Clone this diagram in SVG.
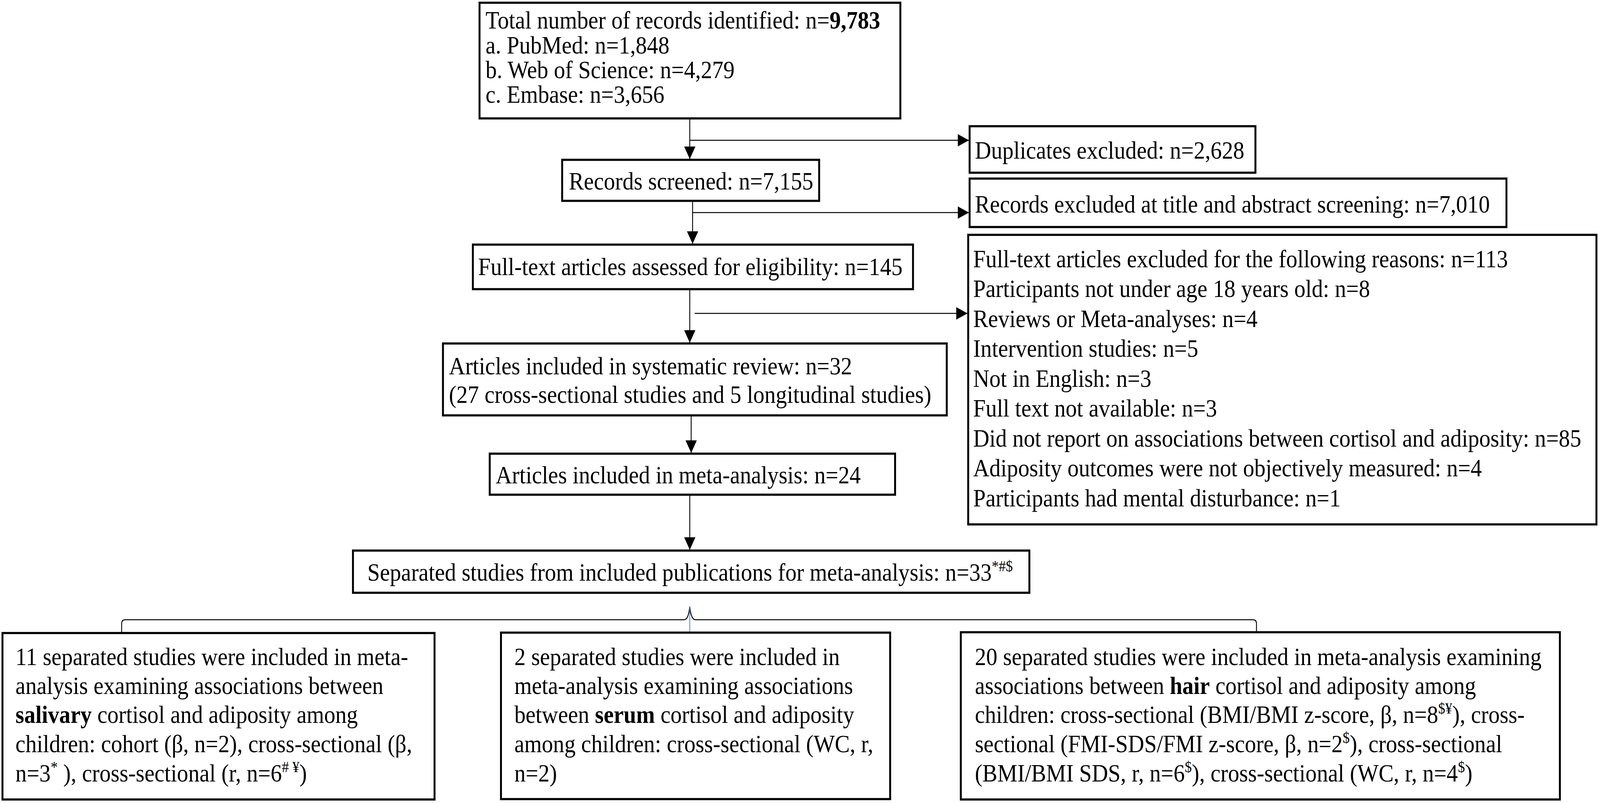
<svg xmlns="http://www.w3.org/2000/svg" width="4551" height="2055" viewBox="0 0 4551 2055">
<style>
.box{fill:#fff;stroke:#000;stroke-width:5.5}
.t{font-family:"Liberation Serif","Times New Roman",serif;font-size:64px;fill:#000}
.b{font-weight:bold}
.sup{font-size:40px}
.ln{fill:none;stroke:#000;stroke-width:2.5}
</style>
<defs>
<marker id="ah" viewBox="0 0 32 32" refX="32" refY="16" markerWidth="32" markerHeight="32" markerUnits="userSpaceOnUse" orient="auto">
<path d="M0,0 L32,16 L0,32 Z" fill="#000"/>
</marker>
</defs>
<rect width="4551" height="2055" fill="#fff"/>
<g id="diagram" transform="scale(0.9 1)">
<g id="connectors">
<line class="ln" x1="1962" y1="303" x2="1962" y2="407" marker-end="url(#ah)"/>
<line class="ln" x1="1962" y1="359" x2="2756" y2="359" marker-end="url(#ah)"/>
<line class="ln" x1="1970" y1="514" x2="1970" y2="624" marker-end="url(#ah)"/>
<line class="ln" x1="1970" y1="544" x2="2756" y2="544" marker-end="url(#ah)"/>
<line class="ln" x1="1962" y1="740" x2="1962" y2="877" marker-end="url(#ah)"/>
<line class="ln" x1="1976" y1="802" x2="2752" y2="802" marker-end="url(#ah)"/>
<line class="ln" x1="1966" y1="1063" x2="1966" y2="1159" marker-end="url(#ah)"/>
<line class="ln" x1="1962" y1="1266" x2="1962" y2="1407" marker-end="url(#ah)"/>
<path class="ln" d="M346,1620 L346,1596 Q346,1586 356,1586 L1946,1586 Q1958,1586 1962,1553 Q1966,1586 1978,1586 L3564,1586 Q3574,1586 3574,1596 L3574,1618"/>
<line x1="1962" y1="1551" x2="1962" y2="1619" stroke="#4a72c0" stroke-width="2"/>
</g>
<g id="n-total">
<rect class="box" x="1364" y="7" width="1197" height="296"/>
<text class="t" x="1381" y="73">Total number of records identified: n=<tspan class="b">9,783</tspan></text>
<text class="t" x="1381" y="137">a. PubMed: n=1,848</text>
<text class="t" x="1381" y="200">b. Web of Science: n=4,279</text>
<text class="t" x="1381" y="263">c. Embase: n=3,656</text>
</g>
<g id="n-duplicates">
<rect class="box" x="2758" y="323" width="813" height="119"/>
<text class="t" x="2773" y="406">Duplicates excluded: n=2,628</text>
</g>
<g id="n-screened">
<rect class="box" x="1599" y="409" width="731" height="105"/>
<text class="t" x="1618" y="485">Records screened: n=7,155</text>
</g>
<g id="n-excluded-title">
<rect class="box" x="2758" y="457" width="1527" height="124"/>
<text class="t" x="2773" y="544">Records excluded at title and abstract screening: n=7,010</text>
</g>
<g id="n-fulltext">
<rect class="box" x="1345" y="626" width="1252" height="114"/>
<text class="t" x="1360" y="704">Full-text articles assessed for eligibility: n=145</text>
</g>
<g id="n-fulltext-excluded">
<rect class="box" x="2754" y="601" width="1787" height="741"/>
<text class="t" x="2768" y="684">Full-text articles excluded for the following reasons: n=113</text>
<text class="t" x="2768" y="760">Participants not under age 18 years old: n=8</text>
<text class="t" x="2768" y="837">Reviews or Meta-analyses: n=4</text>
<text class="t" x="2768" y="913">Intervention studies: n=5</text>
<text class="t" x="2768" y="990">Not in English: n=3</text>
<text class="t" x="2768" y="1066">Full text not available: n=3</text>
<text class="t" x="2768" y="1143">Did not report on associations between cortisol and adiposity: n=85</text>
<text class="t" x="2768" y="1219">Adiposity outcomes were not objectively measured: n=4</text>
<text class="t" x="2768" y="1296">Participants had mental disturbance: n=1</text>
</g>
<g id="n-systematic">
<rect class="box" x="1260" y="879" width="1433" height="184"/>
<text class="t" x="1277" y="958">Articles included in systematic review: n=32</text>
<text class="t" x="1277" y="1031">(27 cross-sectional studies and 5 longitudinal studies)</text>
</g>
<g id="n-meta">
<rect class="box" x="1393" y="1161" width="1153" height="105"/>
<text class="t" x="1410" y="1237">Articles included in meta-analysis: n=24</text>
</g>
<g id="n-separated">
<rect class="box" x="1004" y="1409" width="1924" height="108"/>
<text class="t" x="1045" y="1486">Separated studies from included publications for meta-analysis: n=33<tspan class="sup" dy="-24">*#$</tspan></text>
</g>
<g id="n-salivary">
<rect class="box" x="7" y="1620" width="1229" height="426"/>
<text class="t" x="44" y="1702">11 separated studies were included in meta-</text>
<text class="t" x="44" y="1776">analysis examining associations between</text>
<text class="t" x="44" y="1850"><tspan class="b">salivary</tspan> cortisol and adiposity among</text>
<text class="t" x="44" y="1925">children: cohort (β, n=2), cross-sectional (β,</text>
<text class="t" x="44" y="2000" xml:space="preserve">n=3<tspan class="sup" dy="-24">*</tspan><tspan dy="24"> ), cross-sectional (r, n=6</tspan><tspan class="sup" dy="-24"># ¥</tspan><tspan dy="24">)</tspan></text>
</g>
<g id="n-serum">
<rect class="box" x="1425" y="1619" width="1107" height="426"/>
<text class="t" x="1463" y="1702">2 separated studies were included in</text>
<text class="t" x="1463" y="1776">meta-analysis examining associations</text>
<text class="t" x="1463" y="1850">between <tspan class="b">serum</tspan> cortisol and adiposity</text>
<text class="t" x="1463" y="1925">among children: cross-sectional (WC, r,</text>
<text class="t" x="1463" y="2000">n=2)</text>
</g>
<g id="n-hair">
<rect class="box" x="2733" y="1618" width="1704" height="428"/>
<text class="t" x="2773" y="1702">20 separated studies were included in meta-analysis examining</text>
<text class="t" x="2773" y="1776">associations between <tspan class="b">hair</tspan> cortisol and adiposity among</text>
<text class="t" x="2773" y="1850">children: cross-sectional (BMI/BMI z-score, β, n=8<tspan class="sup" dy="-24">$¥</tspan><tspan dy="24">), cross-</tspan></text>
<text class="t" x="2773" y="1925">sectional (FMI-SDS/FMI z-score, β, n=2<tspan class="sup" dy="-24">$</tspan><tspan dy="24">), cross-sectional</tspan></text>
<text class="t" x="2773" y="2000">(BMI/BMI SDS, r, n=6<tspan class="sup" dy="-24">$</tspan><tspan dy="24">), cross-sectional (WC, r, n=4</tspan><tspan class="sup" dy="-24">$</tspan><tspan dy="24">)</tspan></text>
</g>
</g>
</svg>
